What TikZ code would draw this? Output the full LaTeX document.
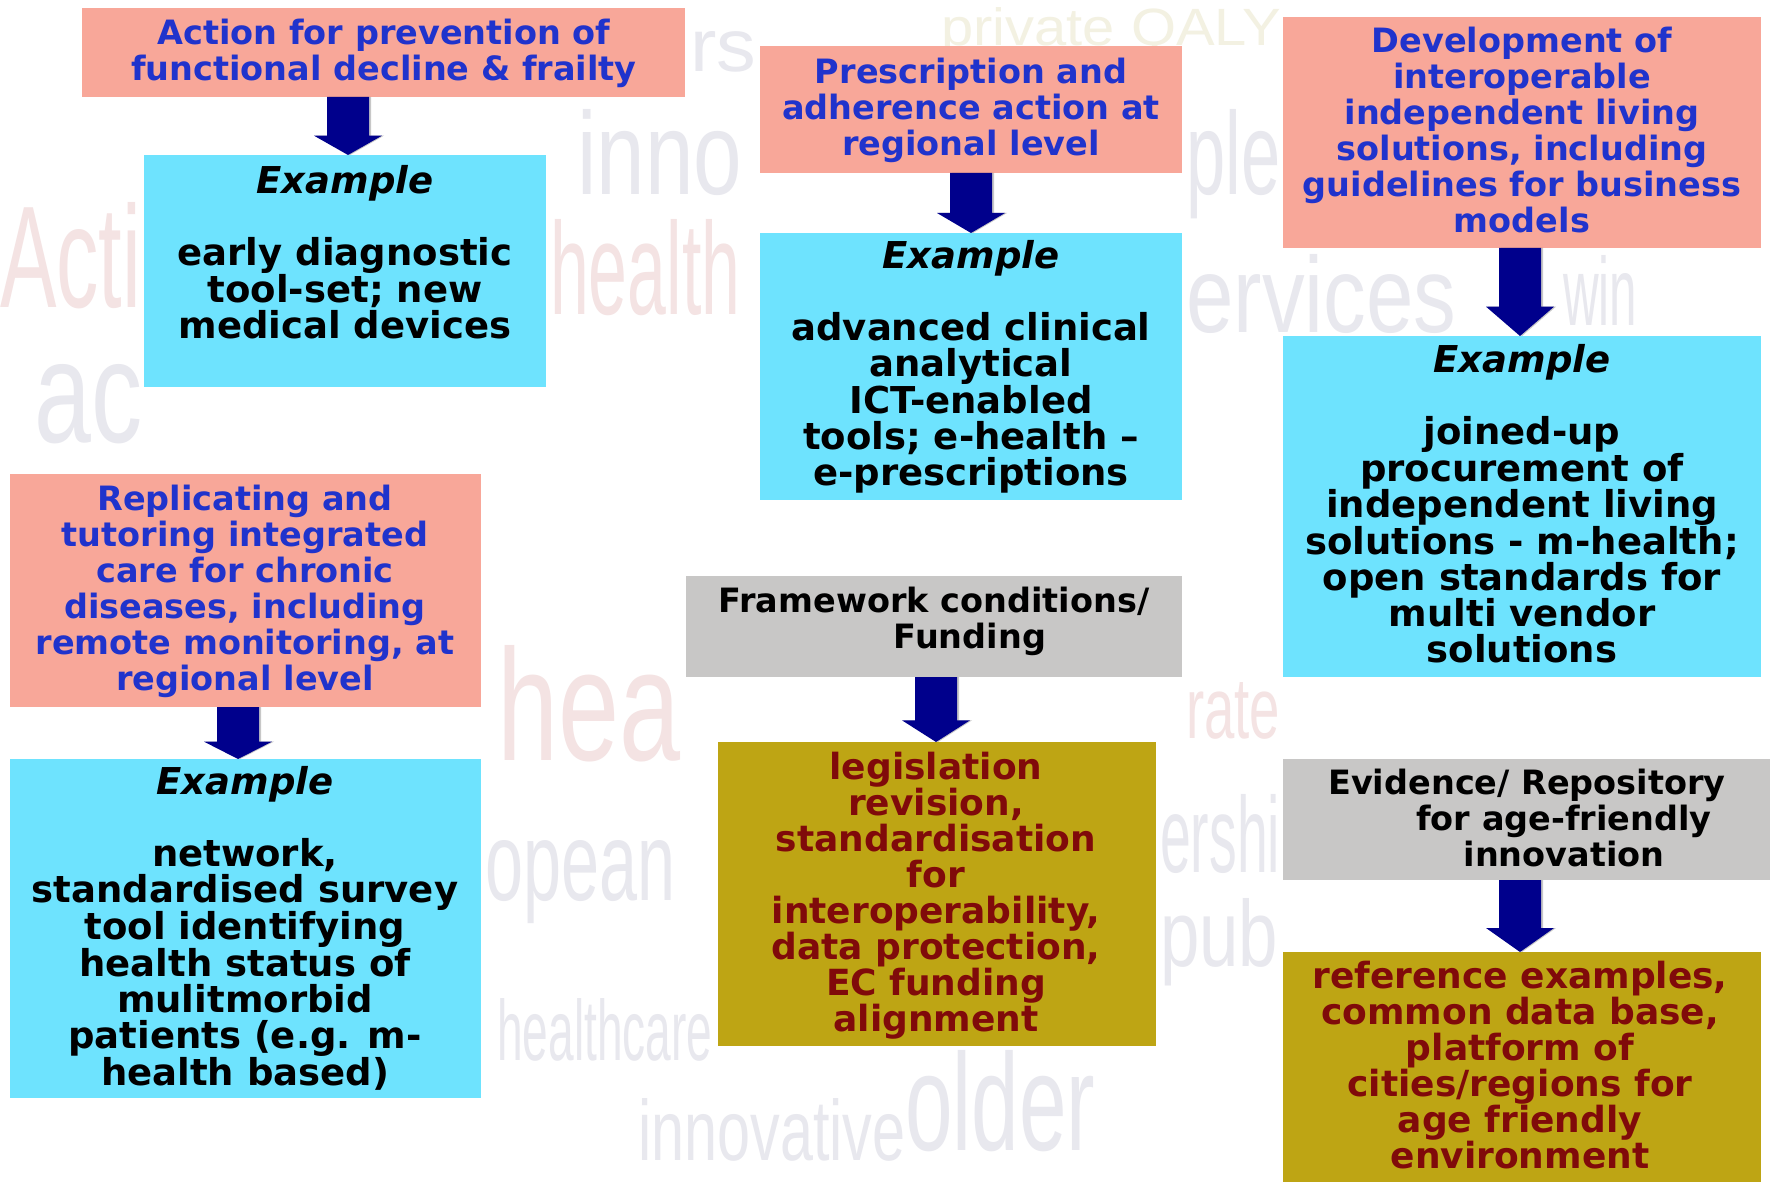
\documentclass[tikz,border=0pt]{standalone}
\usepackage{fontspec}
\usepackage{graphicx}
\setmainfont{DejaVu Sans}
\newfontfamily\cloudfont{Liberation Sans}
\usetikzlibrary{calc}
\definecolor{pinkbox}{HTML}{F8A799}
\definecolor{cyanbox}{HTML}{6EE3FE}
\definecolor{greybox}{HTML}{C8C7C6}
\definecolor{olivebox}{HTML}{BEA514}
\definecolor{bluetext}{HTML}{2033CC}
\definecolor{redtext}{HTML}{800A0A}
\definecolor{arrowblue}{HTML}{00008C}
\definecolor{cloudgrey}{HTML}{E8E8EE}
\definecolor{cloudred}{HTML}{F4E3E3}
\definecolor{cloudcream}{HTML}{F3F1E2}

\newcommand\fl{\rule{0pt}{30pt}}
\newcommand\cw[7]{%
  \node[inner sep=0pt,anchor=base west,text=#6] (#1) at (#2,#3) {\resizebox{#4pt}{#5pt}{\cloudfont #7}};}
\newcommand\arrowpath[3]{%
  let \p1=(#2.south), \p2=(#3.north), \n1={(\y1-\y2)/3} in
    ({#1pt-21pt},\y1) -- ({#1pt+21pt},\y1) -- ({#1pt+21pt},{\y2+\n1*1pt})
    -- ({#1pt+34pt},{\y2+\n1*1pt}) -- ({#1pt},\y2) -- ({#1pt-34pt},{\y2+\n1*1pt})
    -- ({#1pt-21pt},{\y2+\n1*1pt}) -- cycle}
\newcommand\blockarrow[3]{%
  \fill[black,opacity=0.22,xshift=2pt,yshift=-4pt] \arrowpath{#1}{#2}{#3};
  \fill[arrowblue] \arrowpath{#1}{#2}{#3};}

\tikzset{
  boxshape/.style={rectangle,inner sep=0pt,outer sep=0pt,anchor=north west},
  hdr/.style={align=center,inner sep=0pt,anchor=north,font=\fontsize{33.5}{36}\selectfont\bfseries},
  body/.style={align=center,inner sep=0pt,anchor=north,font=\fontsize{37}{36}\selectfont\bfseries},
  olivebody/.style={align=center,inner sep=0pt,anchor=north,font=\fontsize{36}{36}\selectfont\bfseries,text=redtext},
}

\begin{document}
\begin{tikzpicture}[x=1pt,y=-1pt]
\fill[white] (0,0) rectangle (1770,1182);
\useasboundingbox (0,0) rectangle (1770,1182);

% faint background word cloud (visible parts only)
\cw{w1}{690}{72}{66}{40}{cloudgrey}{rs}
\cw{w2}{941}{46}{340}{38}{cloudcream}{private QALY}
\cw{w3}{577}{195}{165}{85}{cloudgrey}{inno}
\cw{w4}{1186}{195}{94}{85}{cloudgrey}{ple}
\cw{w5}{550}{315}{190}{95}{cloudred}{health}
\cw{w6}{1186}{333}{270}{78}{cloudgrey}{ervices}
\cw{w7}{1563}{326}{74}{70}{cloudgrey}{win}
\cw{w8}{0}{308}{141}{105}{cloudred}{Acti}
\cw{w9}{34}{442}{108}{78}{cloudgrey}{ac}
\cw{w11}{1186}{738}{94}{56}{cloudred}{rate}
\cw{w12}{497}{760}{183}{115}{cloudred}{hea}
\cw{w13}{485}{900}{190}{60}{cloudgrey}{opean}
\cw{w14}{1160}{872}{120}{78}{cloudgrey}{ershi}
\cw{w15}{1160}{966}{118}{68}{cloudgrey}{pub}
\cw{w17}{497}{1060}{215}{62}{cloudgrey}{healthcare}
\cw{w18}{638}{1160}{267}{62}{cloudgrey}{innovative}
\cw{w19}{905}{1150}{190}{100}{cloudgrey}{older}

% boxes
\node[boxshape,fill=pinkbox,minimum width=603pt,minimum height=89pt] (b1) at (82,8) {};
\node[boxshape,fill=cyanbox,minimum width=402pt,minimum height=232pt] (b2) at (144,155) {};
\node[boxshape,fill=pinkbox,minimum width=422pt,minimum height=127pt] (b3) at (760,46) {};
\node[boxshape,fill=cyanbox,minimum width=422pt,minimum height=267pt] (b4) at (760,233) {};
\node[boxshape,fill=pinkbox,minimum width=478pt,minimum height=231pt] (b5) at (1283,17) {};
\node[boxshape,fill=cyanbox,minimum width=478pt,minimum height=341pt] (b6) at (1283,336) {};
\node[boxshape,fill=pinkbox,minimum width=471pt,minimum height=233pt] (b7) at (10,474) {};
\node[boxshape,fill=cyanbox,minimum width=471pt,minimum height=339pt] (b8) at (10,759) {};
\node[boxshape,fill=greybox,minimum width=496pt,minimum height=101pt] (b9) at (686,576) {};
\node[boxshape,fill=olivebox,minimum width=438pt,minimum height=304pt] (b10) at (718,742) {};
\node[boxshape,fill=greybox,minimum width=487pt,minimum height=121pt] (b11) at (1283,759) {};
\node[boxshape,fill=olivebox,minimum width=478pt,minimum height=230pt] (b12) at (1283,952) {};

% texts
\node[hdr,text=bluetext] (t1) at (384,14) {\fl Action for prevention of\\functional decline \& frailty};
\node[body] (t2) at (345,163) {\fl\textit{Example}\\[36pt]early diagnostic\\tool-set; new\\medical devices};
\node[hdr,text=bluetext] (t3) at (971,53) {\fl Prescription and\\adherence action at\\regional level};
\node[body] (t4) at (971,238) {\fl\textit{Example}\\[36pt]advanced clinical\\analytical\\ICT-enabled\\tools; e-health –\\e-prescriptions};
\node[hdr,text=bluetext] (t5) at (1522,22) {\fl Development of\\interoperable\\independent living\\solutions, including\\guidelines for business\\models};
\node[body] (t6) at (1522,342) {\fl\textit{Example}\\[36pt]joined-up\\procurement of\\independent living\\solutions - m-health;\\open standards for\\multi vendor\\solutions};
\node[hdr,text=bluetext] (t7) at (245,480) {\fl Replicating and\\tutoring integrated\\care for chronic\\diseases, including\\remote monitoring, at\\regional level};
\node[body] (t8) at (245,764) {\fl\textit{Example}\\[36pt]network,\\standardised survey\\tool identifying\\health status of\\mulitmorbid\\patients (e.g. m-\\health based)};
\node[hdr,text=black] (t9) at (934,582) {\fl Framework conditions/\\\hspace*{72pt}Funding};
\node[olivebody] (t10) at (936,749) {\fl legislation\\revision,\\standardisation\\for\\interoperability,\\data protection,\\EC funding\\alignment};
\node[hdr,text=black] (t11) at (1527,764) {\fl Evidence/ Repository\\\hspace*{74pt}for age-friendly\\\hspace*{74pt}innovation};
\node[olivebody] (t12) at (1520,958) {\fl reference examples,\\common data base,\\platform of\\cities/regions for\\age friendly\\environment};

% arrows
\blockarrow{348}{b1}{b2}
\blockarrow{971}{b3}{b4}
\blockarrow{1520}{b5}{b6}
\blockarrow{238}{b7}{b8}
\blockarrow{936}{b9}{b10}
\blockarrow{1520}{b11}{b12}
\end{tikzpicture}
\end{document}
